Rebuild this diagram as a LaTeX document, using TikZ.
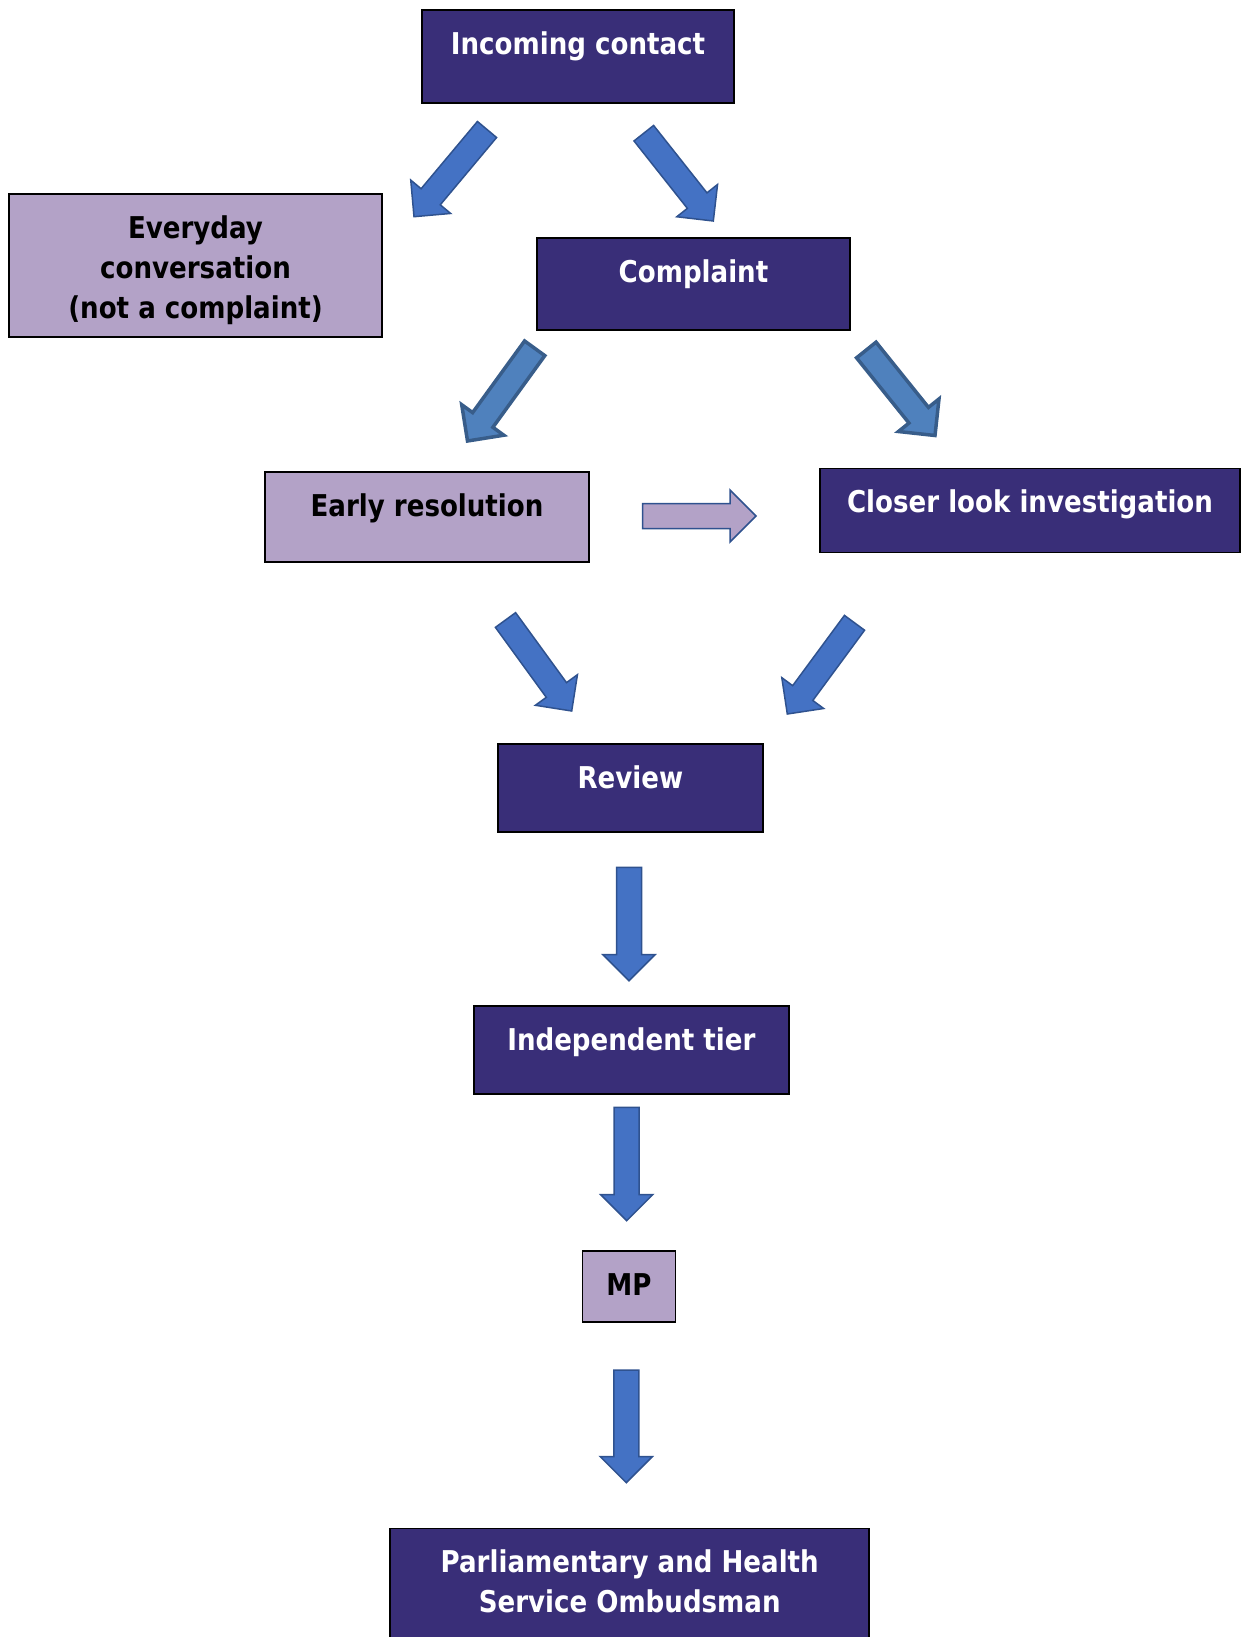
\documentclass[tikz,border=0pt]{standalone}
\usepackage{fontspec}
\usepackage{tikz}
\usetikzlibrary{calc}
\newfontfamily\boxfont{DejaVu Sans}[FakeStretch=0.87]
\definecolor{dpurple}{RGB}{57,46,120}
\definecolor{lpurple}{RGB}{179,162,199}
\definecolor{ablue}{RGB}{68,114,196}
\definecolor{ablueline}{RGB}{47,82,143}
\definecolor{bblue}{RGB}{79,129,189}
\definecolor{bblueline}{RGB}{56,93,138}

% block arrow from tail #1 to tip #2, style #3
\newcommand\blockarrow[3]{%
  \draw[#3] ($(#1)!12.5bp!90:(#2)$) -- ($(#2)!26bp!(#1)!12.5bp!90:(#2)$)
    -- ($(#2)!26bp!(#1)!26bp!90:(#2)$) -- (#2)
    -- ($(#2)!26bp!(#1)!26bp!-90:(#2)$) -- ($(#2)!26bp!(#1)!12.5bp!-90:(#2)$)
    -- ($(#1)!12.5bp!-90:(#2)$) -- cycle;}

\begin{document}
\begin{tikzpicture}[x=1bp, y=-1bp,
    darkbox/.style={rectangle, draw=black, line width=1.5bp, fill=dpurple, inner sep=0pt},
    lightbox/.style={darkbox, fill=lpurple},
    darktext/.style={anchor=base, align=center, inner sep=0pt, text=white,
         font=\boxfont\bfseries\fontsize{30bp}{40bp}\selectfont},
    lighttext/.style={darktext, text=black},
    bluearrow/.style={fill=ablue, draw=ablueline, line width=1.5bp, line join=miter},
    thickarrow/.style={fill=bblue, draw=bblueline, line width=3.5bp, line join=miter},
    sidearrow/.style={fill=lpurple, draw=ablueline, line width=1.5bp, line join=miter}]
    \useasboundingbox (0,0) rectangle (1242,1637);
    \clip (0,0) rectangle (1242,1637);
    % The boxes
    \node[darkbox, minimum width=312bp, minimum height=93bp] (contact) at (578,56.5) {};
    \node[lightbox, minimum width=373bp, minimum height=143bp] (everyday) at (195.5,265.5) {};
    \node[darkbox, minimum width=313bp, minimum height=92bp] (complaint) at (693.5,284) {};
    \node[lightbox, minimum width=324bp, minimum height=90bp] (early) at (427,517) {};
    \node[darkbox, minimum width=420bp, minimum height=84bp] (closer) at (1030,510.3) {};
    \node[darkbox, minimum width=265bp, minimum height=88bp] (review) at (630.4,788) {};
    \node[darkbox, minimum width=315bp, minimum height=88bp] (indep) at (631.4,1050) {};
    \node[lightbox, minimum width=93bp, minimum height=71bp] (mp) at (629,1286.3) {};
    \node[darkbox, minimum width=479bp, minimum height=132bp] (phso) at (629.7,1594.3) {};
    % The texts (base = last line)
    \node[darktext] (contact-t) at ([yshift=-45bp]contact.north) {Incoming contact};
    \node[lighttext] (everyday-t) at ([yshift=-125bp]everyday.north) {Everyday\\conversation\\(not a complaint)};
    \node[darktext] (complaint-t) at ([yshift=-45bp]complaint.north) {Complaint};
    \node[lighttext] (early-t) at ([yshift=-45bp]early.north) {Early resolution};
    \node[darktext] (closer-t) at ([yshift=-45bp]closer.north) {Closer look investigation};
    \node[darktext] (review-t) at ([yshift=-45bp]review.north) {Review};
    \node[darktext] (indep-t) at ([yshift=-45bp]indep.north) {Independent tier};
    \node[lighttext] (mp-t) at ([yshift=-45bp]mp.north) {MP};
    \node[darktext] (phso-t) at ([yshift=-85bp]phso.north) {Parliamentary and Health\\Service Ombudsman};
    % The arrows
    \coordinate (a1t) at (487,129.5);    \coordinate (a1h) at (414,216.7);
    \coordinate (a2t) at (643.8,133.2);  \coordinate (a2h) at (713.3,221);
    \coordinate (a3t) at (534.7,348.3);  \coordinate (a3h) at (467.5,441);
    \coordinate (a4t) at (866.3,350);    \coordinate (a4h) at (935,435.5);
    \coordinate (a5t) at (642.7,516);    \coordinate (a5h) at (756,516);
    \coordinate (a6t) at (505.5,620);    \coordinate (a6h) at (571.7,711);
    \coordinate (a7t) at (854.5,622.8);  \coordinate (a7h) at (787.3,714);
    \coordinate (a8t) at (629,867.3);    \coordinate (a8h) at (629,980.7);
    \coordinate (a9t) at (626.7,1107.3); \coordinate (a9h) at (626.7,1220.7);
    \coordinate (a10t) at (626.3,1370);  \coordinate (a10h) at (626.3,1482.7);
    \foreach \t/\h/\s in {a1t/a1h/bluearrow, a2t/a2h/bluearrow, a3t/a3h/thickarrow,
        a4t/a4h/thickarrow, a5t/a5h/sidearrow, a6t/a6h/bluearrow, a7t/a7h/bluearrow,
        a8t/a8h/bluearrow, a9t/a9h/bluearrow, a10t/a10h/bluearrow} {
        \blockarrow{\t}{\h}{\s}
    };
\end{tikzpicture}
\end{document}
